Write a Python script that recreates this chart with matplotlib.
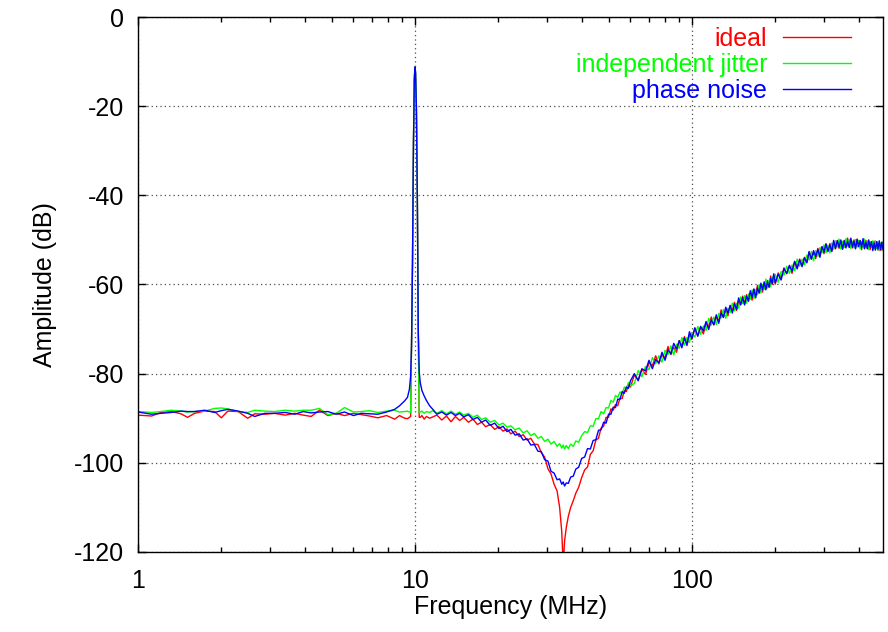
import matplotlib

matplotlib.use("Agg")
import matplotlib.pyplot as plt
from matplotlib.ticker import FixedLocator, FuncFormatter, LogLocator, NullFormatter

plt.rcParams["font.family"] = ["Liberation Sans", "DejaVu Sans"]
plt.rcParams["axes.unicode_minus"] = False
plt.rcParams["font.size"] = 18


############### SPECTRUM DATA ################
# frequency bins in MHz, shared by the three traces
freq_mhz = [
    # noise floor below the tone
    1.00, 1.12, 1.21, 1.32, 1.43, 1.51, 1.60, 1.74, 1.89, 2.00, 2.11,
    2.30, 2.49, 2.64, 2.87, 3.11, 3.40, 3.68, 3.95, 4.22, 4.52, 4.85,
    5.20, 5.57, 6.00, 6.40, 6.85, 7.35, 7.90, 8.45, 8.80, 9.18, 9.40,
    # 10 MHz tone
    9.55, 9.65, 9.72, 9.80, 9.88, 9.95, 10.0, 10.05, 10.12, 10.2, 10.28,
    10.36, 10.45, 10.6, 10.8, 11.0, 11.3,
    # slope down into the notch
    11.6, 12.0, 12.5, 13.0, 13.5, 14.0, 14.5, 15.0, 15.6, 16.2, 16.8,
    17.4, 18.0, 18.7, 19.4, 20.1, 20.8, 21.5, 22.2, 23.0, 23.8, 24.6,
    25.4, 26.2, 27.0, 27.8, 28.6, 29.4, 30.2, 31.0, 31.8, 32.6, 33.3,
    33.9, 34.3, 34.7, 35.2, 35.8, 36.5, 37.3, 38.1, 39.0, 40.0,
    # climb out of the notch
    41, 42, 43, 44, 45, 46, 47, 48, 49, 50, 51, 52, 53, 54, 55, 56, 57,
    58, 59, 60,
    # rising high band
    62, 64, 66, 68, 70, 72, 74, 76, 78, 80, 82, 84, 86, 88, 90, 92, 94,
    96, 98, 100,
    102.5, 105, 107.5, 110, 112.5, 115, 117.5, 120, 122.5, 125,
    127.5, 130, 132.5, 135, 137.5, 140, 142.5, 145, 147.5, 150,
    152.5, 155, 157.5, 160, 162.5, 165, 167.5, 170, 172.5, 175,
    177.5, 180, 182.5, 185, 187.5, 190, 192.5, 195, 197.5, 200,
    205, 210, 215, 220, 225, 230, 235, 240, 245, 250,
    255, 260, 265, 270, 275, 280, 285, 290, 295, 300,
    305, 310, 315, 320, 325, 330, 335, 340, 345, 350,
    355, 360, 365, 370, 375, 380, 385, 390, 395, 400,
    405, 410, 415, 420, 425, 430, 435, 440, 445, 450,
    455, 460, 465, 470, 475, 480, 485, 490,
]

ideal_db = [
    -89.3, -89.5, -88.7, -88.5, -89.0, -89.8, -88.9, -88.4, -88.5, -89.9, -88.4,
    -88.5, -90.0, -89.0, -89.1, -88.9, -89.3, -88.9, -89.3, -89.6, -88.2, -89.4,
    -88.9, -89.4, -88.9, -89.2, -89.5, -89.9, -89.4, -90.2, -89.4, -90.0, -90.1,

    -89.8, -89.6, -74.0, -55.0, -28.0, -14.0, -11.2, -12.5, -20.0, -40.0, -70.0,
    -89.8, -89.8, -89.4, -90.2, -89.6, -90.0,

    -89.7, -89.3, -90.4, -89.5, -90.8, -89.6, -90.5, -89.8, -90.9, -90.2, -91.4,
    -90.9, -91.9, -91.4, -92.5, -91.9, -92.9, -92.4, -93.5, -92.9, -94.1, -93.7,
    -94.9, -94.5, -95.8, -95.9, -97.7, -98.7, -101.3, -102.5, -104.8, -106.3, -110.0,
    -115.5, -123.0, -117.5, -114.5, -112.0, -110.0, -108.5, -106.8, -105.5, -103.3,

    -101.6, -100.9, -98.1, -97.3, -94.9, -94.5, -92.2, -91.8, -89.8, -89.8,
    -87.9, -88.2, -86.9, -87.2, -85.5, -85.6, -83.8, -84.0, -82.5, -83.0,

    -80.3, -81.4, -79.0, -80.2, -77.5, -78.2, -76.0, -77.8, -75.8, -76.5,
    -73.9, -75.7, -74.1, -75.2, -72.6, -73.7, -71.7, -73.7, -71.3, -72.3,
    -69.9, -71.5, -69.6, -71.1, -68.6, -69.4, -67.3, -69.1, -67.4, -68.2,
    -65.7, -67.3, -65.8, -67.0, -64.7, -65.9, -64.0, -65.8, -63.6, -64.4,
    -62.6, -64.3, -62.3, -63.8, -62.0, -63.5, -61.1, -62.3, -60.2, -61.9,
    -60.3, -61.7, -59.4, -60.6, -59.1, -60.6, -58.1, -60.0, -58.5, -59.9,
    -57.4, -58.5, -56.3, -57.6, -55.9, -57.5, -54.9, -56.0, -54.3, -55.8,
    -53.9, -55.1, -52.6, -54.3, -52.9, -54.2, -51.9, -53.2, -51.6, -53.1,
    -50.9, -52.3, -50.8, -52.5, -50.8, -52.0, -50.1, -51.9, -50.3, -52.0,
    -50.1, -51.4, -49.6, -51.6, -50.3, -51.8, -50.0, -51.6, -49.8, -51.5,
    -50.3, -52.2, -50.1, -51.5, -50.1, -51.9, -50.5, -52.2, -50.4, -51.9,
    -50.3, -51.9, -50.4, -52.3, -50.9, -52.3, -50.7, -52.2,
]

jitter_db = [
    -88.5, -88.7, -88.5, -88.2, -88.4, -88.6, -88.5, -88.4, -87.8, -87.7, -87.9,
    -88.5, -88.7, -88.2, -88.4, -88.5, -88.2, -88.4, -88.2, -88.2, -87.8, -89.2,
    -88.9, -87.6, -88.6, -88.5, -88.3, -88.7, -88.4, -88.2, -88.6, -88.5, -88.4,

    -88.6, -88.8, -74.0, -55.0, -28.0, -14.0, -11.2, -12.5, -20.0, -40.0, -70.0,
    -88.8, -88.6, -88.4, -88.9, -88.5, -88.7,

    -88.3, -88.9, -88.3, -89.0, -88.4, -89.1, -88.6, -89.3, -88.9, -89.8, -89.3,
    -90.3, -89.9, -90.9, -90.5, -91.5, -91.1, -92.0, -91.7, -92.6, -92.2, -93.3,
    -92.8, -93.9, -93.4, -94.5, -94.1, -95.2, -94.7, -95.8, -95.2, -96.3, -95.7,
    -96.7, -96.0, -96.9, -96.1, -96.8, -95.8, -96.3, -95.1, -95.4, -93.9,

    -93.0, -93.2, -91.7, -91.8, -90.1, -90.1, -88.5, -89.0, -87.6, -87.7,
    -86.0, -86.4, -84.9, -85.3, -84.1, -84.6, -83.0, -83.4, -82.0, -82.7,

    -82.2, -79.3, -80.7, -78.4, -79.1, -76.4, -77.8, -76.0, -77.4, -74.8,
    -75.7, -73.8, -75.8, -73.4, -74.3, -71.9, -73.6, -71.9, -73.0, -70.8,
    -71.8, -69.4, -71.2, -69.3, -70.3, -67.6, -69.1, -67.3, -69.0, -66.5,
    -67.5, -65.6, -67.6, -65.3, -66.3, -64.2, -65.9, -64.2, -65.3, -62.8,
    -64.3, -62.5, -64.2, -62.1, -63.3, -61.2, -63.2, -61.2, -62.3, -60.0,
    -61.9, -60.0, -61.1, -58.8, -60.8, -59.1, -60.5, -58.3, -59.5, -57.7,
    -59.5, -57.1, -57.9, -55.9, -57.5, -55.6, -56.9, -54.3, -55.9, -54.3,
    -55.6, -53.4, -54.5, -52.6, -54.7, -52.4, -53.7, -51.7, -52.9, -51.1,
    -52.9, -51.2, -52.9, -50.7, -52.1, -50.2, -51.6, -49.8, -52.0, -50.3,
    -51.7, -49.7, -51.4, -49.9, -51.9, -50.3, -51.8, -49.9, -51.6, -50.1,
    -52.0, -50.4, -51.8, -49.8, -51.7, -50.2, -52.2, -50.4, -51.7, -50.2,
    -52.1, -50.2, -51.9, -50.5, -52.4, -50.7, -52.4, -50.4,
]

phase_db = [
    -88.6, -89.1, -88.9, -88.7, -88.4, -88.5, -88.5, -88.2, -88.7, -88.3, -88.0,
    -88.4, -88.9, -89.6, -88.9, -88.9, -88.7, -89.1, -88.5, -88.8, -88.6, -88.5,
    -89.1, -88.6, -89.4, -88.9, -89.0, -89.1, -88.6, -88.0, -87.2, -86.1, -85.3,

    -83.5, -80.5, -74.0, -55.0, -28.0, -14.0, -11.2, -12.5, -20.0, -40.0, -70.0,
    -79.5, -82.0, -83.8, -85.0, -86.0, -87.2,

    -88.0, -89.1, -88.6, -89.3, -88.7, -89.4, -88.9, -89.7, -89.2, -90.3, -89.8,
    -90.9, -90.4, -91.6, -91.1, -92.3, -91.8, -93.0, -92.5, -93.8, -93.5, -94.9,
    -94.6, -96.0, -95.9, -97.4, -97.5, -99.3, -99.6, -101.9, -102.3, -103.8, -103.6,
    -104.8, -104.3, -105.2, -104.5, -104.6, -103.2, -103.0, -101.4, -101.0, -99.0,

    -98.7, -96.8, -96.9, -95.0, -94.8, -92.7, -92.6, -90.9, -91.1, -89.1,
    -89.1, -87.5, -87.6, -85.7, -85.8, -84.0, -84.4, -83.0, -83.3, -81.6,

    -80.0, -81.6, -78.9, -79.4, -77.0, -78.9, -76.8, -77.6, -75.2, -77.0,
    -74.6, -75.6, -73.2, -74.5, -72.6, -74.2, -72.0, -73.5, -70.6, -72.1,
    -69.7, -71.6, -69.4, -70.4, -68.3, -70.1, -68.0, -69.0, -66.8, -68.7,
    -66.4, -67.4, -65.1, -66.4, -64.7, -66.4, -64.3, -65.6, -63.0, -64.6,
    -62.9, -64.6, -62.6, -63.7, -61.4, -62.9, -61.0, -63.0, -60.8, -61.9,
    -59.7, -61.2, -59.5, -61.2, -59.4, -60.6, -58.6, -59.8, -57.6, -59.6,
    -57.7, -59.0, -56.4, -57.5, -55.7, -57.0, -54.8, -56.5, -54.5, -56.0,
    -54.0, -55.1, -52.7, -54.3, -52.4, -53.7, -52.1, -53.9, -51.5, -52.7,
    -50.9, -52.6, -51.1, -52.6, -50.1, -51.9, -50.2, -51.6, -50.0, -52.1,
    -50.2, -51.8, -50.3, -51.7, -49.6, -51.6, -50.3, -52.0, -49.9, -51.5,
    -50.1, -51.7, -49.7, -52.0, -50.5, -52.0, -50.0, -51.6, -50.4, -52.4,
    -50.7, -52.3, -50.4, -52.0, -50.2, -52.2, -50.5, -52.1,
]

series_labels = ["ideal", "independent jitter", "phase noise"]
series_colors = ["#ff0000", "#00ff00", "#0000ff"]

x_ticks = [1, 10, 100]
y_ticks = [0, -20, -40, -60, -80, -100, -120]

assert len(freq_mhz) == len(ideal_db) == len(jitter_db) == len(phase_db)


################# PLOT #########################
fig = plt.figure(figsize=(8.88, 6.32), dpi=100)
ax = fig.add_axes([0.1554, 0.1266, 0.8390, 0.8465])

for values, label, color in zip(
    [ideal_db, jitter_db, phase_db], series_labels, series_colors
):
    ax.plot(freq_mhz, values, color=color, lw=1.0, label=label)

ax.set_xscale("log")
ax.set_xlim(1, 490)
ax.set_ylim(-120, 0)

ax.xaxis.set_major_locator(FixedLocator(x_ticks))
ax.xaxis.set_major_formatter(FuncFormatter(lambda v, _: f"{v:g}"))
ax.xaxis.set_minor_locator(LogLocator(base=10, subs=range(2, 10)))
ax.xaxis.set_minor_formatter(NullFormatter())
ax.yaxis.set_major_locator(FixedLocator(y_ticks))

ax.tick_params(which="both", direction="in", top=True, right=True, width=1)
ax.tick_params(which="major", length=6)
ax.tick_params(which="minor", length=3.5)
ax.tick_params(axis="x", pad=12)
ax.tick_params(axis="y", pad=10)

for side in ax.spines.values():
    side.set_linewidth(1.0)

ax.grid(True, which="major", color="0.3", linestyle=(0, (1, 2.5)), linewidth=0.9)
ax.set_axisbelow(True)

ax.set_xlabel("Frequency (MHz)")
ax.set_ylabel("Amplitude (dB)")
ax.xaxis.set_label_coords(0.5, -0.080)
ax.yaxis.set_label_coords(-0.109, 0.5)

ax.legend(
    loc="upper right",
    bbox_to_anchor=(0.957, 0.981),
    frameon=False,
    markerfirst=False,
    labelcolor="linecolor",
    handlelength=2.7,
    handletextpad=0.65,
    labelspacing=0.07,
    borderpad=0.0,
    borderaxespad=0.0,
)

plt.savefig("out.png", dpi=100)
